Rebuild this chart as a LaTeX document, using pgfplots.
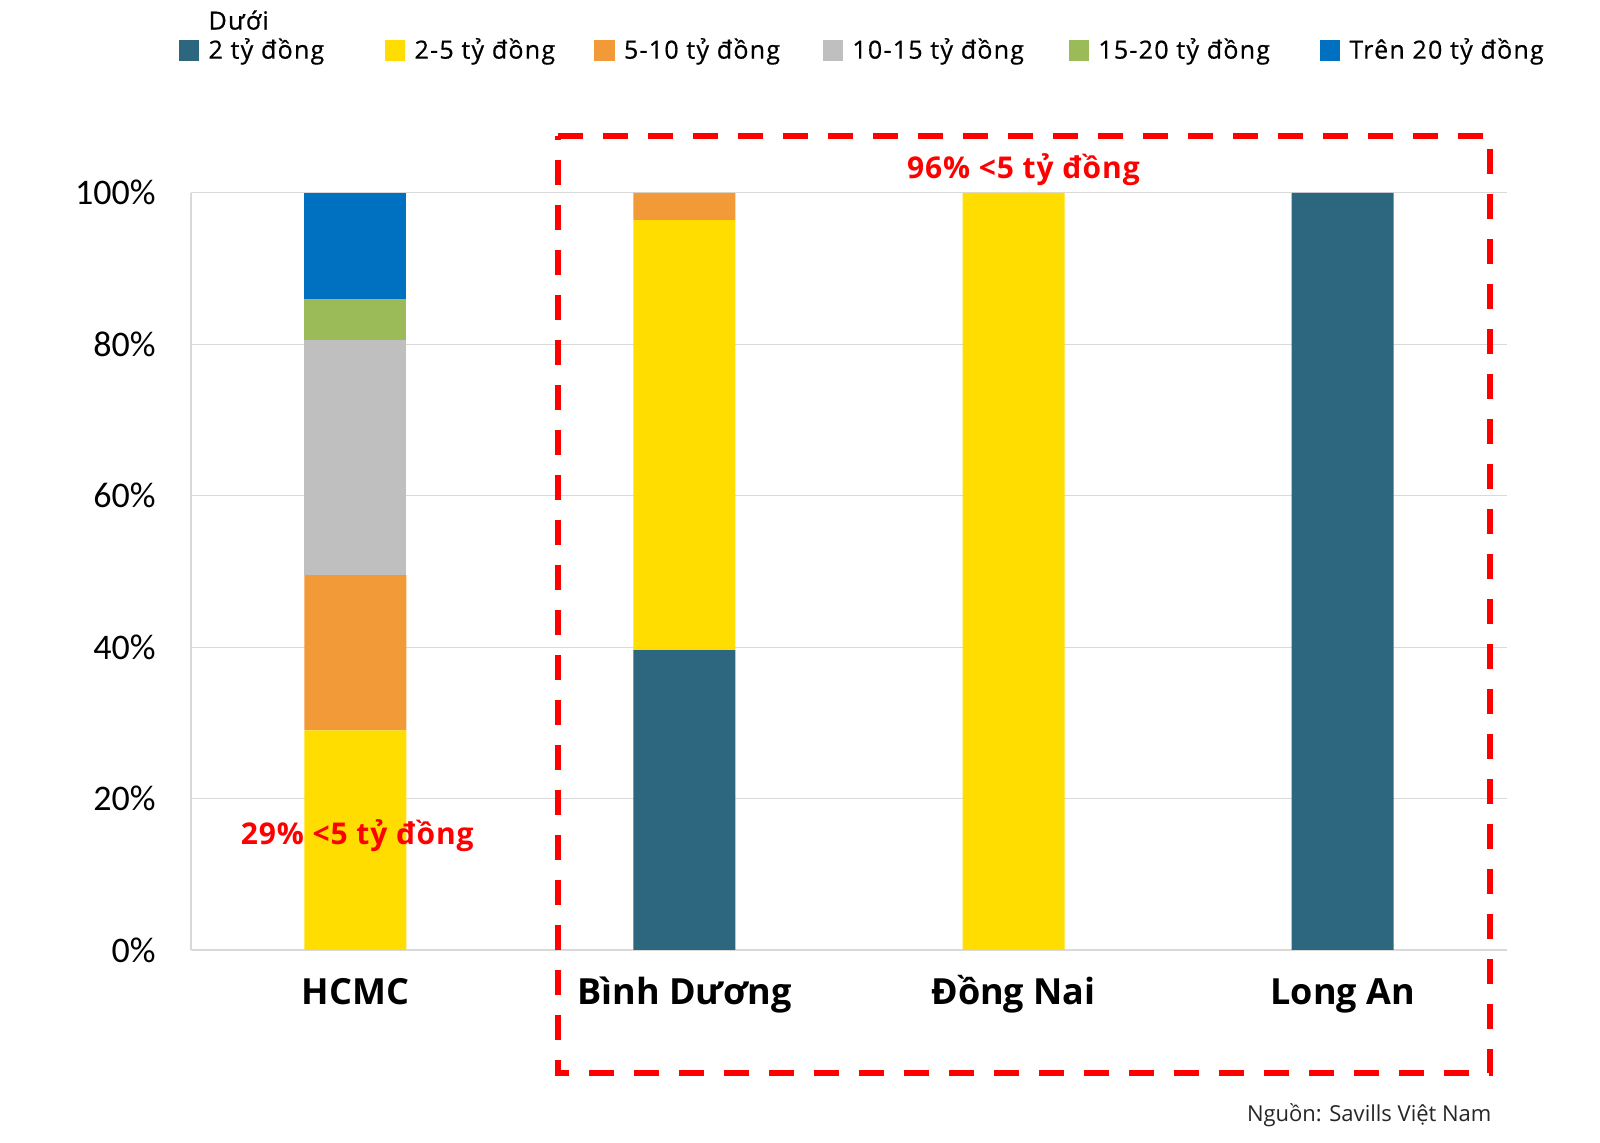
\documentclass[border=0pt]{standalone}
\usepackage{fontspec}
\setmainfont{Open Sans}
\newfontfamily\carlito{Carlito}
\newfontfamily\legfont{Open Sans}[LetterSpace=5, FakeBold=0.6]
\newfontfamily\annfont{Open Sans Bold}[LetterSpace=3]
\usepackage{pgfplots}
\pgfplotsset{compat=1.18}
\definecolor{cteal}{HTML}{2D677F}
\definecolor{cyellow}{HTML}{FFDD00}
\definecolor{corange}{HTML}{F29A38}
\definecolor{cgray}{HTML}{BFBFBF}
\definecolor{cgreen}{HTML}{9BBB59}
\definecolor{cblue}{HTML}{0070C0}
\definecolor{gridgray}{HTML}{D9D9D9}
\definecolor{cred}{HTML}{FF0000}
\pgfplotsset{sqleg/.style={legend image code/.code={\fill[##1] (0pt,-1pt) rectangle (10.2pt,9.2pt);}}}
\newcommand\duoi{\begin{tabular}[b]{@{}l@{}}Dưới\\2 tỷ đồng\end{tabular}}
\begin{document}
\begin{tikzpicture}
\useasboundingbox (0,0) rectangle (800pt,571.5pt);
\begin{axis}[
  at={(95.4pt,96.5pt)}, anchor=south west,
  scale only axis, width=658.2pt, height=378.6pt,
  ybar stacked, bar width=51pt,
  xmin=-0.5, xmax=3.5, ymin=0, ymax=100,
  xtick={0,1,2,3}, xticklabels={HCMC,Bình Dương,Đồng Nai,Long An},
  ytick={0,20,40,60,80,100}, yticklabels={0\%,20\%,40\%,60\%,80\%,100\%},
  ymajorgrids, grid style={draw=gridgray, line width=0.6pt},
  axis x line*=bottom, axis y line*=left,
  axis line style={draw=gridgray, line width=0.8pt, -},
  major tick length=0pt,
  xticklabel style={font=\fontsize{18pt}{20pt}\selectfont\bfseries, text=black, anchor=base, inner sep=0pt, yshift=-27.5pt},
  yticklabel style={font=\carlito\fontsize{18pt}{20pt}\selectfont, text=black, anchor=east, inner sep=0pt, xshift=-17.4pt},
  legend columns=6,
  legend style={at={(-0.00927,1.1653)}, anchor=south west, draw=none, fill=none, inner sep=0pt,
    font=\legfont\fontsize{12.5pt}{14.3pt}\selectfont,
    nodes={inner sep=0pt, text depth=}, cells={anchor=base west},
    column sep=0pt, /tikz/every odd column/.append style={column sep=4.6pt}},
  clip=false,
]
\addplot[fill=cteal, draw=none, sqleg] coordinates {(0,0) (1,39.6) (2,0) (3,100)};
\addlegendentry{\makebox[88.2pt][l]{\duoi}}
\addplot[fill=cyellow, draw=none, sqleg] coordinates {(0,29) (1,56.8) (2,100) (3,0)};
\addlegendentry{\makebox[89.9pt][l]{2-5 tỷ đồng}}
\addplot[fill=corange, draw=none, sqleg] coordinates {(0,20.5) (1,3.6) (2,0) (3,0)};
\addlegendentry{\makebox[99.4pt][l]{5-10 tỷ đồng}}
\addplot[fill=cgray, draw=none, sqleg] coordinates {(0,31) (1,0) (2,0) (3,0)};
\addlegendentry{\makebox[108.2pt][l]{10-15 tỷ đồng}}
\addplot[fill=cgreen, draw=none, sqleg] coordinates {(0,5.5) (1,0) (2,0) (3,0)};
\addlegendentry{\makebox[110.7pt][l]{15-20 tỷ đồng}}
\addplot[fill=cblue, draw=none, sqleg] coordinates {(0,14) (1,0) (2,0) (3,0)};
\addlegendentry{Trên 20 tỷ đồng}
\end{axis}
\draw[cred, line width=3pt, dash pattern=on 12.5pt off 10pt] (279.1pt,503.7pt) -- (744.9pt,503.7pt) -- (744.9pt,34.75pt) -- (279.1pt,34.75pt) -- cycle;
\node[text=cred, font=\annfont\fontsize{15pt}{18pt}\selectfont, anchor=base, inner sep=0pt] at (511.7pt,482.2pt) {96\% <5 tỷ đồng};
\node[text=cred, font=\annfont\fontsize{15pt}{18pt}\selectfont, anchor=base, inner sep=0pt] at (178.6pt,149pt) {29\% <5 tỷ đồng};
\node[font=\fontsize{11pt}{12pt}\selectfont, text=black!85, anchor=east, inner sep=0pt] at (745.9pt,13.85pt) {Nguồn: Savills Việt Nam};
\end{tikzpicture}
\end{document}
